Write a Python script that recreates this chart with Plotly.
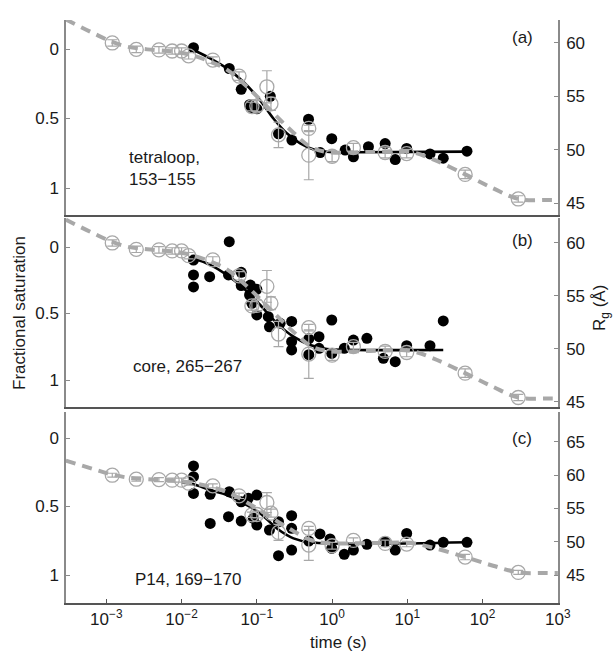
import plotly.graph_objects as go

W, H = 615, 657

# ---- Rg time course (same SAXS data shown in every panel, right axis) ----
rg_t = [0.0012, 0.0025, 0.005, 0.0075, 0.010, 0.0124, 0.026, 0.058, 0.086, 0.10,
        0.136, 0.154, 0.194, 0.49, 0.49, 1.0, 1.92, 5.07, 9.8, 58.6, 298]
rg_val = [60.0, 59.4, 59.35, 59.25, 59.25, 58.8, 58.4, 56.9, 54.05, 54.1,
          55.9, 54.3, 51.4, 52.0, 49.5, 49.4, 50.2, 49.75, 49.65, 47.7, 45.4]
rg_err = [0.3, 0.3, 0.3, 0.3, 0.3, 0.3, 0.3, 0.4, 0.4, 0.5,
          1.5, 0.6, 1.2, 0.3, 2.3, 0.5, 0.4, 0.5, 0.4, 0.4, 0.3]

# multiphase fit to Rg
rgfit_t = [0.00029, 0.00068, 0.0012, 0.0019, 0.0035, 0.0078, 0.013, 0.024, 0.040,
           0.0665, 0.111, 0.185, 0.307, 0.51, 0.85, 3.2, 11, 22, 58.6, 138, 300, 700, 1000]
rgfit_val = [62.2, 60.9, 60.1, 59.65, 59.4, 59.2, 58.9, 58.25, 57.5,
             56.2, 54.7, 53.1, 51.6, 50.3, 49.8, 49.8, 49.8, 49.1, 47.7, 46.4, 45.4, 45.3, 45.3]

# ---- footprinting: fractional saturation (left axis) ----
# (a) tetraloop, 153-155
a_t = [0.0144, 0.043, 0.062, 0.080, 0.085, 0.10, 0.151, 0.194, 0.292, 0.486, 0.695,
       0.99, 1.49, 1.92, 3.04, 5.07, 6.9, 9.8, 20, 30, 62]
a_sat = [-0.01, 0.14, 0.29, 0.40, 0.42, 0.43, 0.34, 0.61, 0.655, 0.505, 0.745,
         0.645, 0.727, 0.775, 0.703, 0.68, 0.795, 0.715, 0.755, 0.785, 0.735]
a_fit_t = [0.0144, 0.024, 0.040, 0.066, 0.11, 0.166, 0.25, 0.377, 0.57, 0.85, 2, 62]
a_fit = [0.007, 0.067, 0.139, 0.235, 0.367, 0.50, 0.606, 0.678, 0.722, 0.739, 0.742, 0.738]

# (b) core, 265-267
b_t = [0.0144, 0.0144, 0.0144, 0.0236, 0.043, 0.042, 0.062, 0.062, 0.082, 0.10, 0.080,
       0.086, 0.10, 0.142, 0.147, 0.204, 0.29, 0.29, 0.29, 0.49, 0.49, 0.67, 0.67,
       0.99, 0.99, 1.45, 1.92, 2.9, 4.8, 6.9, 9.8, 20, 30]
b_sat = [0.098, 0.21, 0.30, 0.223, -0.04, 0.21, 0.19, 0.29, 0.286, 0.318, 0.361,
         0.423, 0.511, 0.524, 0.60, 0.574, 0.56, 0.712, 0.774, 0.69, 0.81, 0.674, 0.762,
         0.549, 0.80, 0.762, 0.70, 0.687, 0.837, 0.862, 0.742, 0.742, 0.556]
b_fit_t = [0.0144, 0.024, 0.040, 0.0665, 0.111, 0.185, 0.307, 0.513, 0.853, 2, 30]
b_fit = [0.085, 0.135, 0.21, 0.31, 0.436, 0.574, 0.674, 0.737, 0.767, 0.774, 0.774]

# (c) P14, 169-170
c_t = [0.0144, 0.0144, 0.0144, 0.024, 0.024, 0.043, 0.042, 0.062, 0.062, 0.077, 0.10,
       0.10, 0.09, 0.147, 0.194, 0.194, 0.29, 0.29, 0.29, 0.49, 0.69, 0.94, 0.99,
       1.45, 1.92, 2.9, 5.07, 6.9, 9.8, 20, 30, 62]
c_sat = [0.204, 0.282, 0.404, 0.411, 0.623, 0.392, 0.574, 0.465, 0.606, 0.44, 0.416,
         0.635, 0.586, 0.672, 0.611, 0.859, 0.567, 0.659, 0.818, 0.752, 0.70, 0.737, 0.805,
         0.849, 0.818, 0.776, 0.757, 0.818, 0.696, 0.781, 0.761, 0.761]
c_fit_t = [0.0101, 0.0144, 0.024, 0.040, 0.0665, 0.111, 0.185, 0.307, 0.513, 62]
c_fit = [0.323, 0.338, 0.38, 0.416, 0.477, 0.55, 0.66, 0.732, 0.761, 0.761]

x_tick_vals = [1e-3, 1e-2, 1e-1, 1e0, 1e1, 1e2, 1e3]
x_tick_text = ["10<sup>−3</sup>", "10<sup>−2</sup>", "10<sup>−1</sup>", "10<sup>0</sup>",
               "10<sup>1</sup>", "10<sup>2</sup>", "10<sup>3</sup>"]
sat_ticks = [0, 0.5, 1]
sat_text = ["0", "0.5", "1"]

panels = [
    dict(t=a_t, sat=a_sat, ft=a_fit_t, fit=a_fit, label="(a)",
         name="tetraloop,<br>153−155", top=20, bottom=215,
         sat_range=[1.194, -0.209], rg_range=[43.9, 62.15], rg_ticks=[45, 50, 55, 60],
         name_xy=(127, 168), label_y=37),
    dict(t=b_t, sat=b_sat, ft=b_fit_t, fit=b_fit, label="(b)",
         name="core, 265−267", top=218, bottom=407,
         sat_range=[1.203, -0.218], rg_range=[44.5, 62.36], rg_ticks=[45, 50, 55, 60],
         name_xy=(131, 366), label_y=240),
    dict(t=c_t, sat=c_sat, ft=c_fit_t, fit=c_fit, label="(c)",
         name="P14, 169−170", top=412, bottom=603,
         sat_range=[1.204, -0.19], rg_range=[40.8, 69.5], rg_ticks=[45, 50, 55, 60, 65],
         name_xy=(133, 579), label_y=438),
]

FONT = "Liberation Sans, Arial, sans-serif"
TXT = "#1a1a1a"
AX_GRAY = "#8a8a8a"
X_LINE = "#555555"
RG_GRAY = "#a8a8a8"

x_dom = [66 / W, 558 / W]

fig = go.Figure()
layout = dict(
    width=W, height=H,
    margin=dict(l=0, r=0, t=0, b=0, autoexpand=False),
    paper_bgcolor="white", plot_bgcolor="rgba(0,0,0,0)",
    showlegend=False,
    font=dict(family=FONT, size=17, color=TXT),
    annotations=[],
)

for i, p in enumerate(panels):
    n = i + 1
    xa = "x" if n == 1 else f"x{n}"
    yl = "y" if n == 1 else f"y{2 * n - 1}"
    yr = f"y{2 * n}"
    xkey = "xaxis" if n == 1 else f"xaxis{n}"
    ylkey = "yaxis" if n == 1 else f"yaxis{2 * n - 1}"
    yrkey = f"yaxis{2 * n}"
    dom = [1 - p["bottom"] / H, 1 - p["top"] / H]
    last = n == 3

    layout[xkey] = dict(
        type="log", domain=x_dom, range=[-3.536, 3.002], anchor=yl, automargin=False,
        showline=True, linecolor=X_LINE, linewidth=1.5, showgrid=False, zeroline=False,
        ticks="inside" if last else "", ticklen=4, tickcolor=X_LINE,
        tickvals=x_tick_vals, ticktext=x_tick_text, showticklabels=last,
        ticklabelstandoff=0,
        tickfont=dict(family=FONT, size=17, color=TXT),
    )
    layout[ylkey] = dict(
        domain=dom, range=p["sat_range"], anchor=xa, side="left", automargin=False,
        showline=True, linecolor=AX_GRAY, linewidth=1.5, showgrid=False, zeroline=False,
        ticks="inside", ticklen=4, tickcolor=AX_GRAY,
        tickvals=sat_ticks, ticktext=sat_text, ticklabelstandoff=2,
        tickfont=dict(family=FONT, size=17, color=TXT),
    )
    layout[yrkey] = dict(
        range=p["rg_range"], anchor=xa, overlaying=yl, side="right", automargin=False,
        showline=True, linecolor=AX_GRAY, linewidth=1.5, showgrid=False, zeroline=False,
        ticks="inside", ticklen=4, tickcolor=AX_GRAY,
        tickvals=p["rg_ticks"], ticklabelstandoff=3,
        tickfont=dict(family=FONT, size=17, color=TXT),
    )

    # footprinting data and fit (left axis)
    fig.add_trace(go.Scatter(
        x=p["t"], y=p["sat"], xaxis=xa, yaxis=yl, mode="markers",
        marker=dict(size=11, color="black", line=dict(width=0)),
    ))
    fig.add_trace(go.Scatter(
        x=p["ft"], y=p["fit"], xaxis=xa, yaxis=yl, mode="lines",
        line=dict(color="black", width=2.6, shape="spline", smoothing=1.0),
    ))
    # Rg data and fit (right axis)
    fig.add_trace(go.Scatter(
        x=rg_t, y=rg_val, xaxis=xa, yaxis=yr, mode="markers",
        marker=dict(symbol="circle-open", size=14, color=RG_GRAY, line=dict(width=1.3, color=RG_GRAY)),
        error_y=dict(type="data", array=rg_err, color=RG_GRAY, thickness=1.2, width=5),
    ))
    fig.add_trace(go.Scatter(
        x=rgfit_t, y=rgfit_val, xaxis=xa, yaxis=yr, mode="lines",
        line=dict(color=RG_GRAY, width=4, dash="10px,7px", shape="spline", smoothing=1.0),
    ))

    nx, ny = p["name_xy"]
    layout["annotations"].append(dict(
        text=p["name"], xref="paper", yref="paper", x=nx / W, y=1 - ny / H,
        xanchor="left", yanchor="middle", align="left", showarrow=False,
        font=dict(family=FONT, size=17, color=TXT),
    ))
    layout["annotations"].append(dict(
        text=p["label"], xref="paper", yref="paper", x=522 / W, y=1 - p["label_y"] / H,
        xanchor="center", yanchor="middle", showarrow=False,
        font=dict(family=FONT, size=17, color=TXT),
    ))

# axis titles
layout["annotations"] += [
    dict(text="Fractional saturation", xref="paper", yref="paper", x=19 / W, y=1 - 313 / H,
         textangle=-90, xanchor="center", yanchor="middle", showarrow=False,
         font=dict(family=FONT, size=17, color=TXT)),
    dict(text="R<sub>g</sub> (Å)", xref="paper", yref="paper", x=601 / W, y=1 - 308 / H,
         textangle=-90, xanchor="center", yanchor="middle", showarrow=False,
         font=dict(family=FONT, size=17, color=TXT)),
    dict(text="time (s)", xref="paper", yref="paper", x=338 / W, y=1 - 642 / H,
         xanchor="center", yanchor="middle", showarrow=False,
         font=dict(family=FONT, size=17, color=TXT)),
]

fig.update_layout(**layout)
fig.write_html("out.html")
